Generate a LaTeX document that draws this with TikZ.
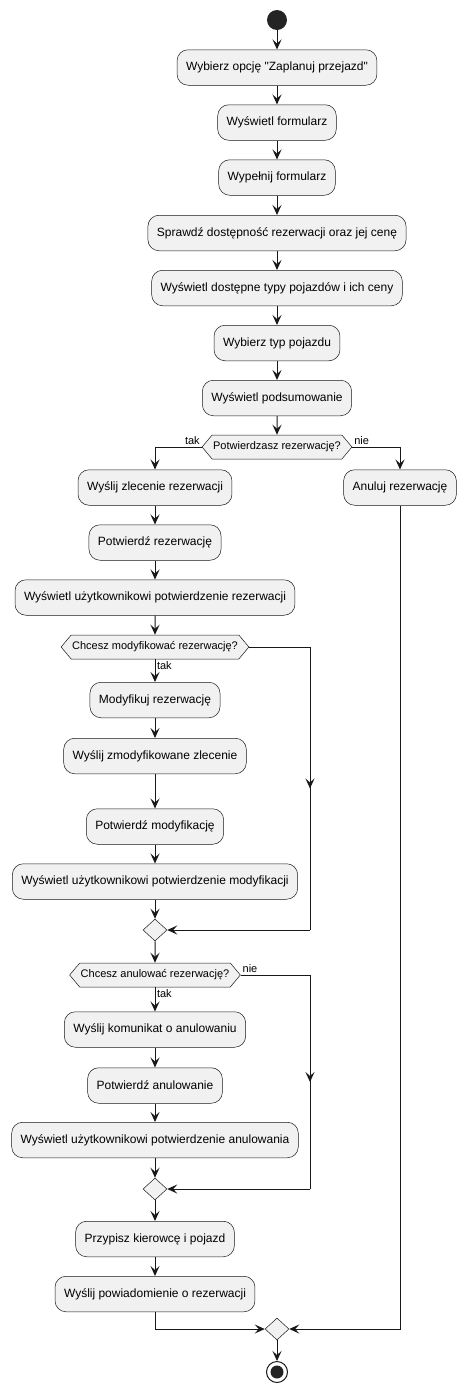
\documentclass[tikz,border=0pt]{standalone}
\usepackage{fontspec}
\newfontfamily\uifont{Liberation Sans}
\usetikzlibrary{shapes.geometric,shapes.symbols,arrows.meta,decorations.markings}
\definecolor{boxfill}{HTML}{F1F1F1}
\definecolor{ink}{HTML}{181818}

\begin{document}
\begin{tikzpicture}[x=1pt,y=-1pt,>={Stealth[length=10pt,width=9pt,inset=4pt]},
    action/.style={draw=ink,fill=boxfill,rounded corners=11pt,line width=0.5pt,
                   minimum height=35.5pt,inner xsep=9pt,font=\uifont\fontsize{12}{14}\selectfont},
    choice/.style={draw=ink,fill=boxfill,shape=signal,signal to=west and east,
                   signal pointer angle=100,line width=0.5pt,minimum height=24pt,
                   inner xsep=1pt,font=\uifont\fontsize{11}{13}\selectfont},
    merge/.style={draw=ink,fill=boxfill,diamond,line width=0.5pt,
                  minimum width=24pt,minimum height=22pt,inner sep=0pt},
    flow/.style={->,draw=ink,line width=1pt},
    rail/.style={draw=ink,line width=1pt},
    midarrow/.style={postaction={decorate},
                     decoration={markings,mark=at position 0.5 with {\arrow{>}}}},
    lbl/.style={font=\uifont\fontsize{11}{13}\selectfont,inner sep=1.5pt}]
    \useasboundingbox (0,0) rectangle (466,1393);

    % start
    \node[circle,fill=ink!95,minimum size=20pt,inner sep=0pt] (start) at (277,20) {};

    % common part
    \node[action] (wybierz) at (277,67.5) {Wybierz opcję "Zaplanuj przejazd"};
    \node[action] (formularz) at (277,122.5) {Wyświetl formularz};
    \node[action] (wypelnij) at (277,177.5) {Wypełnij formularz};
    \node[action] (sprawdz) at (277,233) {Sprawdź dostępność rezerwacji oraz jej cenę};
    \node[action] (typy) at (277,288) {Wyświetl dostępne typy pojazdów i ich ceny};
    \node[action] (typ) at (277,343) {Wybierz typ pojazdu};
    \node[action] (podsum) at (277,398) {Wyświetl podsumowanie};
    \node[choice] (potw) at (277,447) {Potwierdzasz rezerwację?};

    % tak / nie
    \node[action] (zlecenie) at (155,487.5) {Wyślij zlecenie rezerwacji};
    \node[action] (anuluj) at (400,487.5) {Anuluj rezerwację};
    \node[action] (potwrez) at (155,542.5) {Potwierdź rezerwację};
    \node[action] (infrez) at (155,597.5) {Wyświetl użytkownikowi potwierdzenie rezerwacji};

    % modyfikacja
    \node[choice] (modq) at (155,647) {Chcesz modyfikować rezerwację?};
    \node[action] (modyf) at (155,700) {Modyfikuj rezerwację};
    \node[action] (zmodzl) at (155,756) {Wyślij zmodyfikowane zlecenie};
    \node[action] (potwmod) at (155,826.5) {Potwierdź modyfikację};
    \node[action] (infmod) at (155,881.5) {Wyświetl użytkownikowi potwierdzenie modyfikacji};
    \node[merge] (mergeA) at (155,930) {};

    % anulowanie
    \node[choice] (anq) at (155,975) {Chcesz anulować rezerwację?};
    \node[action] (komun) at (155,1029.5) {Wyślij komunikat o anulowaniu};
    \node[action] (potwan) at (155,1085.5) {Potwierdź anulowanie};
    \node[action] (infan) at (155,1140) {Wyświetl użytkownikowi potwierdzenie anulowania};
    \node[merge] (mergeB) at (155,1189) {};

    % koniec
    \node[action] (kierowca) at (155,1239) {Przypisz kierowcę i pojazd};
    \node[action] (powiad) at (155,1294) {Wyślij powiadomienie o rezerwacji};
    \node[merge] (mergeC) at (277,1329) {};
    \node[circle,draw=ink,fill=white,line width=1pt,minimum size=21pt,inner sep=0pt] (stop) at (277,1372) {};
    \fill[ink!95] (stop.center) circle (6.5);

    \coordinate (railA) at (310,0);

    % connectors
    \draw[flow] (start) -- (wybierz);
    \draw[flow] (wybierz) -- (formularz);
    \draw[flow] (formularz) -- (wypelnij);
    \draw[flow] (wypelnij) -- (sprawdz);
    \draw[flow] (sprawdz) -- (typy);
    \draw[flow] (typy) -- (typ);
    \draw[flow] (typ) -- (podsum);
    \draw[flow] (podsum) -- (potw);
    \draw[flow] (potw.west) node[lbl,anchor=south east] {tak} -| (zlecenie.north);
    \draw[flow] (potw.east) node[lbl,anchor=south west] {nie} -| (anuluj.north);
    \draw[flow] (zlecenie) -- (potwrez);
    \draw[flow] (potwrez) -- (infrez);
    \draw[flow] (infrez) -- (modq);
    \draw[flow] (modq.south) node[lbl,anchor=north west] {tak} -- (modyf.north);
    \draw[flow] (modyf) -- (zmodzl);
    \draw[flow] (zmodzl) -- (potwmod);
    \draw[flow] (potwmod) -- (infmod);
    \draw[flow] (infmod) -- (mergeA);
    \draw[rail] (modq.east) -- (modq.east -| railA);
    \draw[rail,midarrow] (modq.east -| railA) -- (mergeA -| railA);
    \draw[flow] (mergeA -| railA) -- (mergeA.east);
    \draw[flow] (mergeA) -- (anq);
    \draw[flow] (anq.south) node[lbl,anchor=north west] {tak} -- (komun.north);
    \draw[flow] (komun) -- (potwan);
    \draw[flow] (potwan) -- (infan);
    \draw[flow] (infan) -- (mergeB);
    \draw[rail] (anq.east) node[lbl,anchor=south west] {nie} -- (anq.east -| railA);
    \draw[rail,midarrow] (anq.east -| railA) -- (mergeB -| railA);
    \draw[flow] (mergeB -| railA) -- (mergeB.east);
    \draw[flow] (mergeB) -- (kierowca);
    \draw[flow] (kierowca) -- (powiad);
    \draw[flow] (powiad.south) |- (mergeC.west);
    \draw[flow] (anuluj.south) |- (mergeC.east);
    \draw[flow] (mergeC) -- (stop);
\end{tikzpicture}
\end{document}
